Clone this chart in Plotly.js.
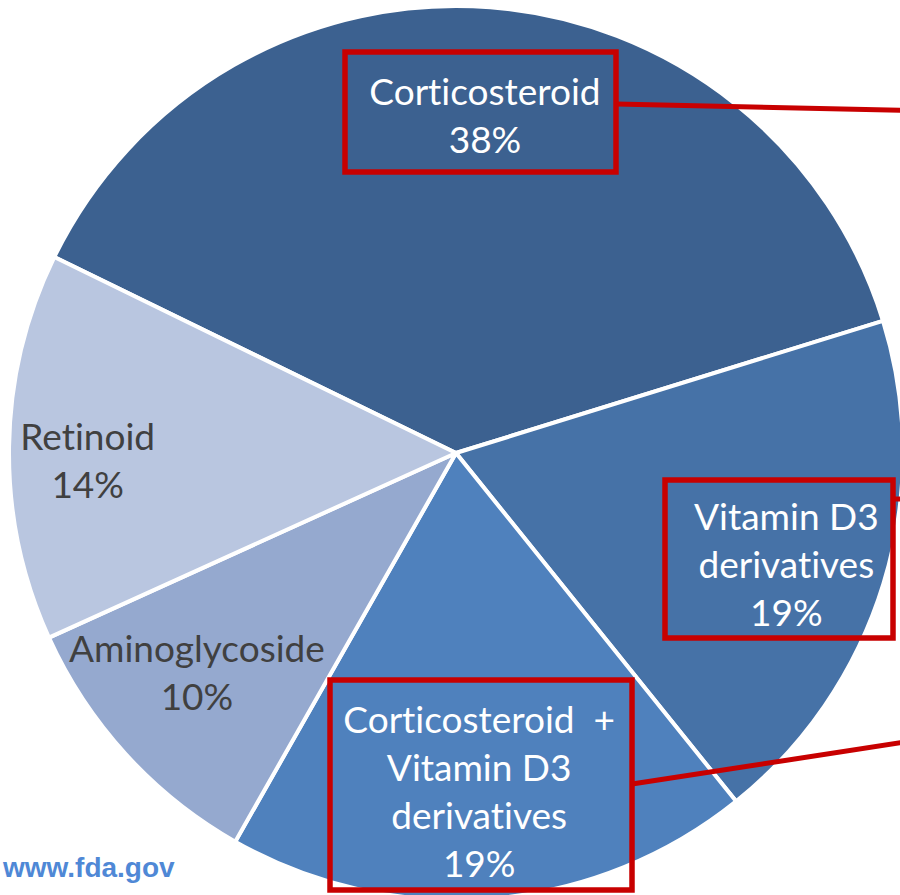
<!DOCTYPE html>
<html>
<head>
<meta charset="utf-8">
<script src="https://cdn.plot.ly/plotly-3.0.1.min.js"></script>
<style>
  html, body { margin: 0; padding: 0; overflow: hidden; background: #ffffff; }
  #chart { width: 912px; height: 906px; }
  #chart text { font-variant-ligatures: none; font-feature-settings: "liga" 0, "clig" 0; }
</style>
</head>
<body>
<div id="chart"></div>
<script>
// ---- data ----
const categories = ['Corticosteroid', 'Vitamin D3 derivatives', 'Corticosteroid + Vitamin D3 derivatives', 'Aminoglycoside', 'Retinoid'];
const shares = [38, 19, 19, 10, 14];
const labelLines = ['Corticosteroid', 'Vitamin D3<br>derivatives', 'Corticosteroid  +<br>Vitamin D3<br>derivatives', 'Aminoglycoside', 'Retinoid'];
const sliceColors = ['#3C6190', '#4672A7', '#4F81BD', '#95A9CF', '#B9C6E0'];
const textColors = ['#ffffff', '#ffffff', '#ffffff', '#404040', '#404040'];

// ---- layout helpers (pixel -> paper) ----
const W = 912, H = 906, MT = 6, MB = 6;
const PH = H - MT - MB;
const px = x => x / W;
const py = y => (H - MB - y) / PH;

// label centres (pixels) and highlight boxes / leader lines (pixels)
const labelPos = [[485, 115], [786, 563], [479, 790], [197, 671], [87, 459]];
const boxes = [[345, 52, 616, 172], [665, 480, 893, 638], [330, 680, 632, 890]];
const leaders = [[616, 104, 912, 110.5], [893, 499, 912, 499], [632, 784, 912, 741]];

const annotations = categories.map((c, i) => ({
  xref: 'paper', yref: 'paper',
  x: px(labelPos[i][0]), y: py(labelPos[i][1]),
  xanchor: 'center', yanchor: 'middle',
  text: labelLines[i] + '<br>' + shares[i] + '%',
  showarrow: false,
  align: 'center',
  font: { family: 'Lato, Carlito, sans-serif', size: 37, color: textColors[i] }
}));
annotations.push({
  xref: 'paper', yref: 'paper',
  x: px(0), y: py(867), xanchor: 'left', yanchor: 'middle',
  text: '<b>www.fda.gov</b>', showarrow: false,
  font: { family: 'Liberation Sans, Arial, sans-serif', size: 28, color: '#4F88D6' }
});

const shapes = [];
boxes.forEach(b => shapes.push({
  type: 'rect', xref: 'paper', yref: 'paper',
  x0: px(b[0]), x1: px(b[2]), y0: py(b[3]), y1: py(b[1]),
  line: { color: '#C80000', width: 5.5 }, fillcolor: 'rgba(0,0,0,0)'
}));
leaders.forEach(l => shapes.push({
  type: 'line', xref: 'paper', yref: 'paper',
  x0: px(l[0]), y0: py(l[1]), x1: px(l[2]), y1: py(l[3]),
  line: { color: '#C80000', width: 5 }
}));

const trace = {
  type: 'pie',
  labels: categories,
  values: shares,
  sort: false,
  direction: 'clockwise',
  rotation: -64,
  textinfo: 'none',
  hoverinfo: 'label+percent',
  marker: { colors: sliceColors, line: { color: '#ffffff', width: 4 } },
  domain: { x: [0, 1], y: [0, 1] },
  showlegend: false
};

const layout = {
  width: W, height: H,
  margin: { l: 0, r: 0, t: MT, b: MB, pad: 0 },
  paper_bgcolor: '#ffffff',
  plot_bgcolor: '#ffffff',
  showlegend: false,
  annotations: annotations,
  shapes: shapes
};

Plotly.newPlot('chart', [trace], layout, { displayModeBar: false, staticPlot: true });
</script>
</body>
</html>
